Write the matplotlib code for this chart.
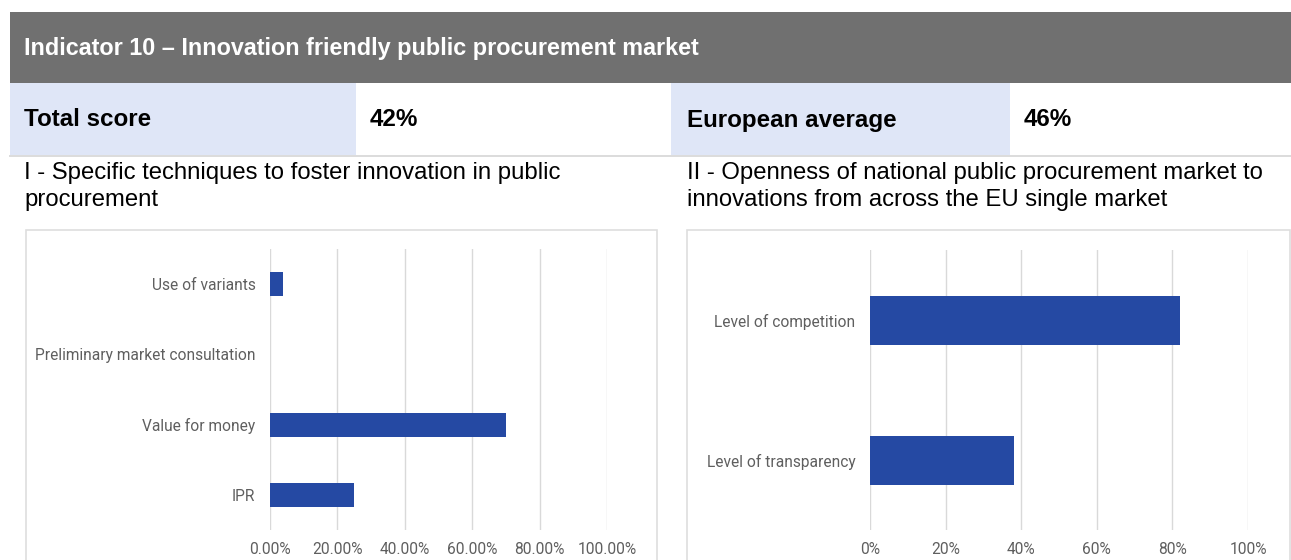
import matplotlib.pyplot as plt
from matplotlib.patches import Rectangle
from matplotlib.ticker import FuncFormatter

# indicator summary
header_title = "Indicator 10 – Innovation friendly public procurement market"
total_score = 42
european_average = 46

# panel I - specific techniques
techniques_title = ["I - Specific techniques to foster innovation in public", "procurement"]
techniques = ["Use of variants", "Preliminary market consultation", "Value for money", "IPR"]
techniques_share = [0.04, 0.0, 0.70, 0.25]

# panel II - openness of the market
openness_title = ["II - Openness of national public procurement market to",
                  "innovations from across the EU single market"]
openness = ["Level of competition", "Level of transparency"]
openness_share = [0.82, 0.38]

W, H = 1291, 560
BAR_COLOR = "#2549a3"
CELL_BLUE = "#dfe6f7"
GRID = "#d9d9d9"
LABEL_GRAY = "#5f5f5f"

fig = plt.figure(figsize=(W / 100, H / 100), dpi=100)


def px_box(x0, y0, x1, y1):
    # pixel box (top-down) -> figure fraction [left, bottom, width, height]
    return [x0 / W, 1 - y1 / H, (x1 - x0) / W, (y1 - y0) / H]


def add_rect(x0, y0, x1, y1, **kw):
    l, b, w, h = px_box(x0, y0, x1, y1)
    fig.patches.append(Rectangle((l, b), w, h, transform=fig.transFigure, **kw))


def add_text(x, y, s, **kw):
    fig.text(x / W, 1 - y / H, s, va="center", ha="left", **kw)


# header band and score row
add_rect(10, 12, W, 83, facecolor="#707070", edgecolor="none")
add_text(24, 48, header_title, color="white", fontsize=16.8, fontweight="bold",
         family="Liberation Sans")
add_rect(10, 83, 356, 155, facecolor=CELL_BLUE, edgecolor="none")
add_rect(671, 83, 1010, 155, facecolor=CELL_BLUE, edgecolor="none")
add_rect(9, 155, W, 157, facecolor="#dcdcdc", edgecolor="none")

row_font = dict(color="black", fontsize=17.4, fontweight="bold", family="Liberation Sans")
add_text(24, 120, "Total score", **row_font)
add_text(370, 120, f"{total_score}%", **row_font)
add_text(687, 120, "European average", **row_font)
add_text(1024, 120, f"{european_average}%", **row_font)

sub_font = dict(color="black", fontsize=17.2, family="Liberation Sans")
for i, line in enumerate(techniques_title):
    add_text(24, 173 + 27 * i, line, **sub_font)
for i, line in enumerate(openness_title):
    add_text(687, 173 + 27 * i, line, **sub_font)

# chart frames
add_rect(26, 230, 657, H + 5, facecolor="none", edgecolor="#dedede", linewidth=1.2)
add_rect(687, 230, W - 1, H + 5, facecolor="none", edgecolor="#dedede", linewidth=1.2)


def bar_panel(box, labels, values, fmt, bar_h):
    ax = fig.add_axes(px_box(*box))
    y = list(range(len(labels)))
    ax.barh(y, values, height=bar_h, color=BAR_COLOR, zorder=3)
    ax.set_xlim(0, 1)
    ax.set_ylim(len(labels) - 0.5, -0.5)
    ax.set_xticks([0, 0.2, 0.4, 0.6, 0.8, 1.0])
    ax.xaxis.set_major_formatter(FuncFormatter(fmt))
    ax.set_yticks(y)
    ax.set_yticklabels(labels)
    ax.grid(axis="x", color=GRID, linewidth=1, zorder=0)
    ax.tick_params(length=0, labelsize=11.2, labelcolor=LABEL_GRAY)
    ax.tick_params(axis="y", pad=10.5)
    ax.tick_params(axis="x", pad=9)
    for lbl in ax.get_xticklabels() + ax.get_yticklabels():
        lbl.set_family("Roboto")
    for s in ax.spines.values():
        s.set_visible(False)
    ax.patch.set_alpha(0)
    return ax


bar_panel((270, 249, 607, 530), techniques, techniques_share,
          lambda v, _: f"{v * 100:.2f}%", 0.34)
bar_panel((870, 250, 1248, 530), openness, openness_share,
          lambda v, _: f"{v * 100:.0f}%", 0.35)

fig.savefig("out.png", dpi=100)
